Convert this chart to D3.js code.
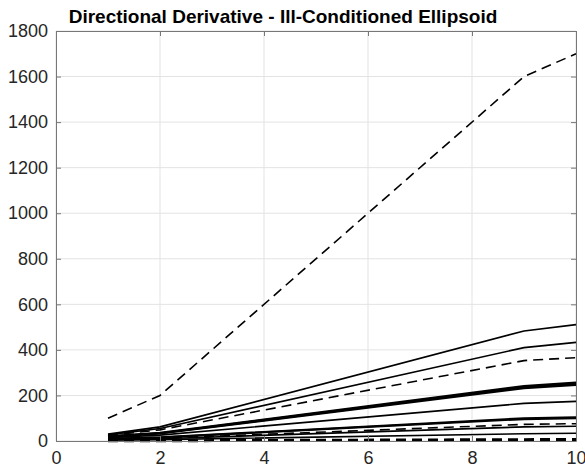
<!DOCTYPE html>
<html>
<head>
<meta charset="utf-8">
<script src="https://cdn.jsdelivr.net/npm/d3@7"></script>
<style>
  body { margin: 0; background: #fff; }
  svg { display: block; font-family: "Liberation Sans", Arial, Helvetica, sans-serif; }
</style>
</head>
<body>
<svg id="chart" width="585" height="469"></svg>
<script>
// x positions the curves were sampled at
var xs = [1, 2, 9, 10];

// curves (solid / dashed, thin / thick)
var bigDashed   = [100, 200, 1600, 1700];
var solidA      = [30, 62, 483, 511];
var solidB      = [27, 55, 410, 433];
var dashedC     = [24, 49, 353, 366];
var thickD1     = [20, 36, 241, 256];
var thickD2     = [19, 34, 236, 250];
var thickD3     = [18, 33, 232, 246];
var solidE      = [14, 26, 165, 174];
var thickF1     = [10, 16, 100, 104];
var thickF2     = [9, 15, 96, 100];
var dashedG     = [8, 12, 73, 76];
var solidH      = [7, 10, 62, 65];
var solidI      = [4, 6, 32, 34];
var thickDashJ  = [1, 1, 6, 7];

var xTicks = [0, 2, 4, 6, 8, 10];
var yTicks = [0, 200, 400, 600, 800, 1000, 1200, 1400, 1600, 1800];

var series = [
  {v: bigDashed, dash: true, w: 1.6},
  {v: solidA, dash: false, w: 1.6},
  {v: solidB, dash: false, w: 1.6},
  {v: dashedC, dash: true, w: 1.6},
  {v: thickD1, dash: false, w: 2.2},
  {v: thickD2, dash: false, w: 2.2},
  {v: thickD3, dash: false, w: 2.2},
  {v: solidE, dash: false, w: 1.6},
  {v: thickF1, dash: false, w: 2},
  {v: thickF2, dash: false, w: 2},
  {v: dashedG, dash: true, w: 1.6},
  {v: solidH, dash: false, w: 1.6},
  {v: solidI, dash: false, w: 1.6},
  {v: thickDashJ, dash: true, w: 3}
];

var m = {left: 56, right: 576, top: 31, bottom: 441};
var svg = d3.select('#chart');

var x = d3.scaleLinear().domain([0, 10]).range([m.left, m.right]);
var y = d3.scaleLinear().domain([0, 1800]).range([m.bottom, m.top]);

// grid
var grid = svg.append('g').attr('stroke', '#e3e3e3').attr('stroke-width', 1);
xTicks.forEach(function (t) {
  grid.append('line').attr('x1', x(t)).attr('x2', x(t)).attr('y1', m.top).attr('y2', m.bottom);
});
yTicks.forEach(function (t) {
  grid.append('line').attr('x1', m.left).attr('x2', m.right).attr('y1', y(t)).attr('y2', y(t));
});

// curves
var line = d3.line()
  .x(function (d, i) { return x(xs[i]); })
  .y(function (d) { return y(d); });

svg.append('g').selectAll('path')
  .data(series)
  .join('path')
  .attr('d', function (s) { return line(s.v); })
  .attr('fill', 'none')
  .attr('stroke', '#000')
  .attr('stroke-width', function (s) { return s.w; })
  .attr('stroke-dasharray', function (s) { return s.dash ? '10,6' : null; });

// axes, matlab style box with inward ticks
var axColor = '#262626';
var fmt = d3.format('d');
var xAxis = svg.append('g').attr('transform', 'translate(0,' + m.bottom + ')')
  .call(d3.axisBottom(x).tickValues(xTicks).tickFormat(fmt).tickSizeInner(-5).tickSizeOuter(0).tickPadding(10));
var yAxis = svg.append('g').attr('transform', 'translate(' + m.left + ',0)')
  .call(d3.axisLeft(y).tickValues(yTicks).tickFormat(fmt).tickSizeInner(-5).tickSizeOuter(0).tickPadding(8));
var xTop = svg.append('g').attr('transform', 'translate(0,' + m.top + ')')
  .call(d3.axisTop(x).tickValues(xTicks).tickSizeInner(-5).tickSizeOuter(0).tickFormat(''));
var yRight = svg.append('g').attr('transform', 'translate(' + m.right + ',0)')
  .call(d3.axisRight(y).tickValues(yTicks).tickSizeInner(-5).tickSizeOuter(0).tickFormat(''));

[xAxis, yAxis, xTop, yRight].forEach(function (g) {
  g.select('.domain').attr('stroke', '#777').attr('stroke-width', 1);
  g.selectAll('.tick line').attr('stroke', '#777');
  g.selectAll('text')
    .attr('fill', axColor)
    .style('font-size', '18px')
    .style('font-family', '"Liberation Sans", Arial, Helvetica, sans-serif');
});
xAxis.selectAll('text').attr('dy', '0.71em');

svg.append('text')
  .attr('x', 283)
  .attr('y', 23)
  .attr('text-anchor', 'middle')
  .attr('font-weight', 'bold')
  .attr('font-size', '19px')
  .attr('fill', '#000')
  .text('Directional Derivative - Ill-Conditioned Ellipsoid');
</script>
</body>
</html>
